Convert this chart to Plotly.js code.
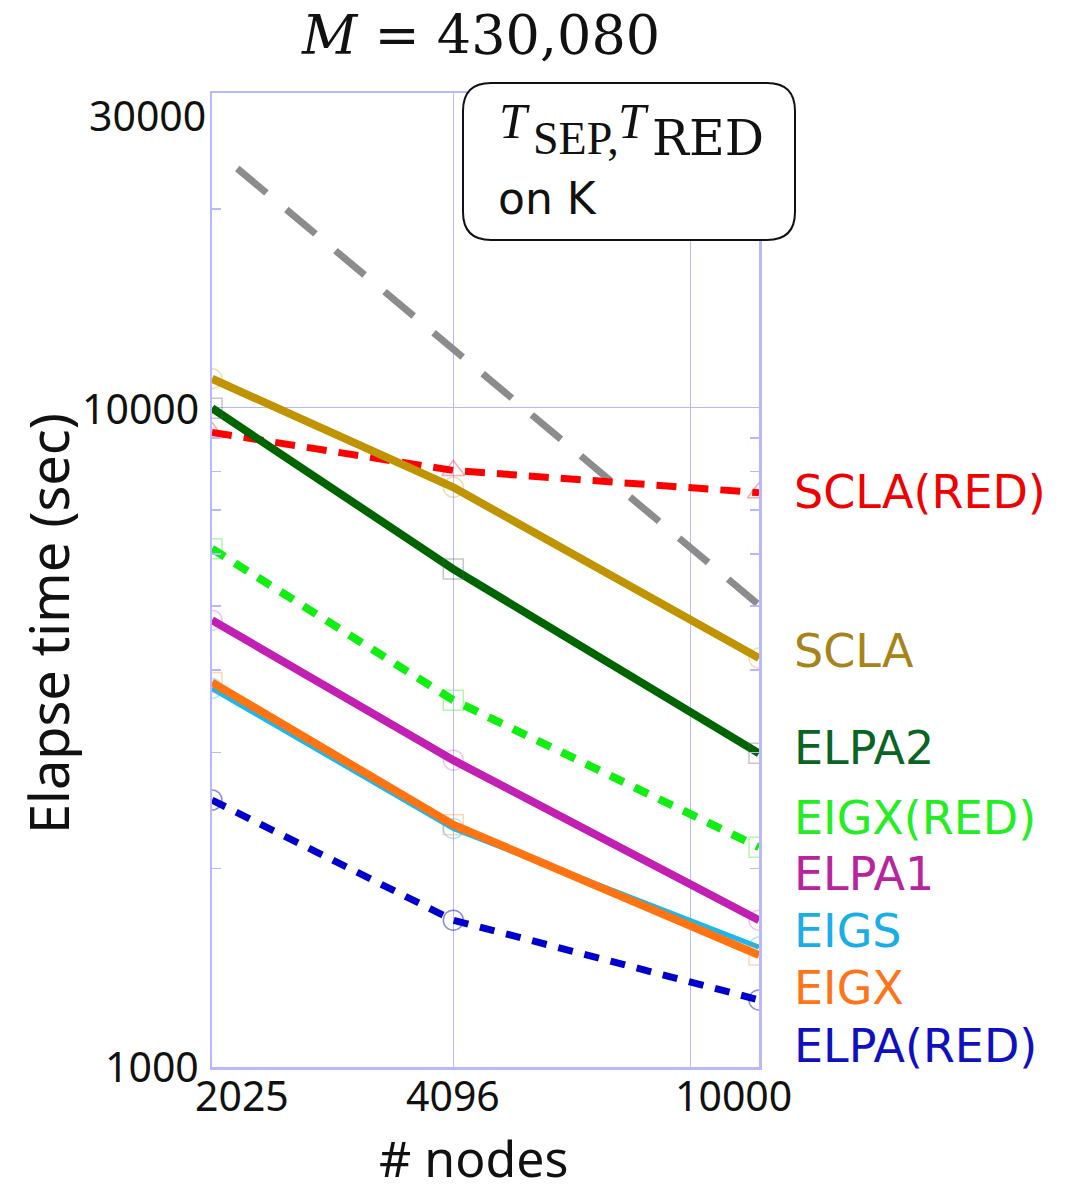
<!DOCTYPE html>
<html>
<head>
<meta charset="utf-8">
<script src="https://cdn.plot.ly/plotly-3.0.1.min.js"></script>
<style>html,body{margin:0;padding:0;background:#fff;}#chart{width:1067px;height:1196px;}</style>
</head>
<body>
<div id="chart"></div>
<script>
// ---- data ----
const nodes = [2025, 4096, 10000];
const idealNodes = [2180, 10000];
const idealScaling = [23050, 5020];
const sclaRed = [9170, 8030, 7430];
const scla = [11060, 7570, 4170];
const elpa2 = [9980, 5690, 2990];
const eigxRed = [6110, 3600, 2155];
const elpa1 = [4760, 2920, 1670];
const eigs = [3750, 2300, 1520];
const eigx = [3830, 2330, 1478];
const elpaRed = [2540, 1670, 1264];
const seriesNames = ["SCLA(RED)", "SCLA", "ELPA2", "EIGX(RED)", "ELPA1", "EIGS", "EIGX", "ELPA(RED)"];
const xTickVals = [2025, 4096, 8192, 10000];
const xTickLabels = ["2025", "4096", "10000"];
const yTickVals = [1000, 10000, 30000];
const yTickLabels = ["1000", "10000", "30000"];
const yMinorVals = [2000, 3000, 4000, 5000, 6000, 7000, 8000, 9000, 20000];

// ---- layout geometry (pixels) ----
const L = 212, R = 759, T = 93, B = 1067;
const W = R - L, H = B - T;
const px = v => (v - L) / W;
const py = v => (B - v) / H;
const AX = '#b8b8ff';
const SANS = 'Noto Sans, Open Sans, DejaVu Sans, sans-serif';
const WIDE = 'DejaVu Sans, Noto Sans, sans-serif';
const SERIF = 'Liberation Serif, DejaVu Serif, serif';
const SERIF2 = 'DejaVu Serif, Liberation Serif, serif';

function tr(y, color, width, dash, symbol, mcolor) {
  return {
    x: nodes, y: y, type: 'scatter', mode: 'lines+markers',
    line: {color: color, width: width, dash: dash},
    marker: {symbol: symbol, size: 20, color: mcolor, line: {color: mcolor, width: 1.5}},
    showlegend: false, hoverinfo: 'skip'
  };
}

const traces = [
  {x: idealNodes, y: idealScaling, type: 'scatter', mode: 'lines', line: {color: '#8c8c8c', width: 7, dash: '38px,26px'}, showlegend: false, hoverinfo: 'skip'},
  tr(sclaRed, '#ff0000', 7, '20px,12px', 'triangle-up-open', 'rgba(255,0,0,0.35)'),
  tr(scla, '#bf9400', 8, 'solid', 'circle-open', 'rgba(191,148,0,0.3)'),
  tr(elpa2, '#006400', 8, 'solid', 'square-open', 'rgba(80,100,80,0.35)'),
  tr(eigxRed, '#11ee11', 8, '15px,12px', 'square-open', 'rgba(17,238,17,0.35)'),
  tr(elpa1, '#c21fb3', 8, 'solid', 'circle-open', 'rgba(194,31,179,0.25)'),
  tr(eigs, '#1ab8ee', 5, 'solid', 'circle-open', 'rgba(26,184,238,0.35)'),
  tr(eigx, '#ff7410', 8, 'solid', 'square-open', 'rgba(255,116,16,0.3)'),
  tr(elpaRed, '#0000cc', 7, '15px,12px', 'circle-open', 'rgba(0,0,204,0.45)')
];

function ann(text, x, y, o) {
  return Object.assign({text: text, xref: 'paper', yref: 'paper', x: px(x), y: py(y), showarrow: false,
    xanchor: 'center', yanchor: 'middle', borderpad: 0, font: {family: SANS, size: 41, color: '#111'}}, o || {});
}

const labelColors = ['#f00000', '#a88418', '#0a6424', '#22ee22', '#b8239e', '#1aaee8', '#ff7418', '#1010c0'];
const labelY = [492, 651, 748, 818, 874, 931, 988, 1046];

const annotations = [
  ann('<i>M</i> = 430,080', 480, 36, {font: {family: SERIF2, size: 54, color: '#111'}}),
  ann('Elapse time (sec)', 48, 624, {textangle: -90, font: {family: SANS, size: 54, color: '#111'}}),
  ann('# nodes', 473, 1158, {font: {family: SANS, size: 50, color: '#111'}}),
  ann(xTickLabels[0], 242, 1095),
  ann(xTickLabels[1], 453, 1095),
  ann(xTickLabels[2], 733, 1095),
  ann(yTickLabels[0], 200, 1066, {xanchor: 'right'}),
  ann(yTickLabels[1], 200, 408, {xanchor: 'right'}),
  ann(yTickLabels[2], 207, 115, {xanchor: 'right'}),
  // box text
  ann('<i>T</i>', 498, 121, {xanchor: 'left', font: {family: SERIF, size: 50, color: '#111'}}),
  ann('SEP,', 532, 139, {xanchor: 'left', font: {family: SERIF, size: 46, color: '#111'}}),
  ann('<i>T</i>', 617, 121, {xanchor: 'left', font: {family: SERIF, size: 50, color: '#111'}}),
  ann('RED', 651, 139, {xanchor: 'left', font: {family: SERIF2, size: 49, color: '#111'}}),
  ann('on K', 497, 198, {xanchor: 'left', font: {family: WIDE, size: 44, color: '#111'}})
];
seriesNames.forEach((n, i) => {
  annotations.push(ann(n, 793, labelY[i], {xanchor: 'left', font: {family: WIDE, size: 46, color: labelColors[i]}}));
});

// rounded box in paper coords
function roundRect(x0, y0, x1, y1, r) {
  const X = v => px(v).toFixed(5), Y = v => py(v).toFixed(5);
  return `M ${X(x0 + r)},${Y(y0)} L ${X(x1 - r)},${Y(y0)} Q ${X(x1)},${Y(y0)} ${X(x1)},${Y(y0 + r)} ` +
    `L ${X(x1)},${Y(y1 - r)} Q ${X(x1)},${Y(y1)} ${X(x1 - r)},${Y(y1)} L ${X(x0 + r)},${Y(y1)} ` +
    `Q ${X(x0)},${Y(y1)} ${X(x0)},${Y(y1 - r)} L ${X(x0)},${Y(y0 + r)} Q ${X(x0)},${Y(y0)} ${X(x0 + r)},${Y(y0)} Z`;
}

const layout = {
  width: 1067, height: 1196,
  margin: {l: L, r: 1067 - R, t: T, b: 1196 - B, pad: 0},
  paper_bgcolor: '#ffffff', plot_bgcolor: '#ffffff',
  showlegend: false,
  xaxis: {
    type: 'log', range: [Math.log10(2025), Math.log10(10000)],
    tickmode: 'array', tickvals: xTickVals, showticklabels: false, ticks: '',
    showgrid: true, gridcolor: AX, gridwidth: 1.5,
    showline: true, linecolor: AX, linewidth: 2.5, mirror: true, zeroline: false
  },
  yaxis: {
    type: 'log', range: [3, Math.log10(30000)],
    tickmode: 'array', tickvals: yTickVals, showticklabels: false, ticks: '',
    showgrid: true, gridcolor: AX, gridwidth: 1.5,
    showline: true, linecolor: AX, linewidth: 2.5, mirror: 'allticks', zeroline: false,
    minor: {tickmode: 'array', tickvals: yMinorVals, ticks: 'inside', ticklen: 9, tickwidth: 1.5, tickcolor: AX, showgrid: false}
  },
  annotations: annotations,
  shapes: [
    {type: 'path', xref: 'paper', yref: 'paper', path: roundRect(463, 83, 795, 240, 28),
     fillcolor: '#ffffff', line: {color: '#111', width: 2}, layer: 'above'}
  ]
};

Plotly.newPlot('chart', traces, layout, {staticPlot: true, displayModeBar: false});
</script>
</body>
</html>
